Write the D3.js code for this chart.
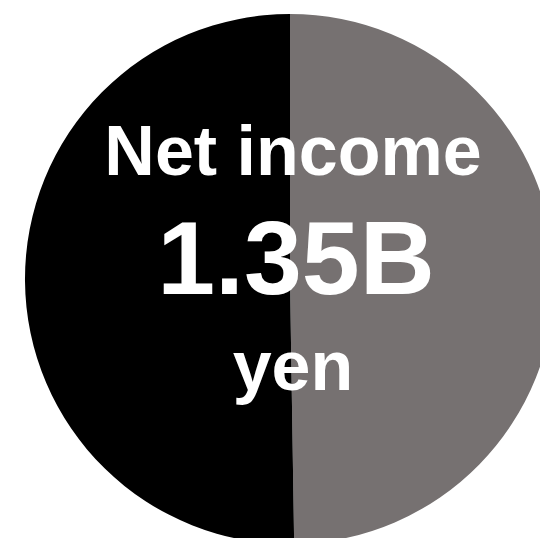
<!DOCTYPE html>
<html>
<head>
<meta charset="utf-8">
<script src="https://cdn.jsdelivr.net/npm/d3@7"></script>
<style>
  html, body { margin: 0; padding: 0; background: #ffffff; overflow: hidden; }
  svg { display: block; }
</style>
</head>
<body>
<script>
// Two-part split of the disc, clockwise from twelve o'clock
const segments = ["Right part", "Left part"];
const shares = [49.75, 50.25];
const segmentColors = ["#767171", "#000000"];

// Centre label lines
const labelLines = ["Net income", "1.35B", "yen"];

const width = 540, height = 538;
const cx = 290, cy = 279, radius = 265;

const svg = d3.select("body").append("svg")
  .attr("width", width)
  .attr("height", height);

const g = svg.append("g").attr("transform", `translate(${cx},${cy})`);

const pie = d3.pie().sort(null).value(d => d.value);
const arc = d3.arc().innerRadius(0).outerRadius(radius);

const data = segments.map((name, i) => ({ name, value: shares[i], color: segmentColors[i] }));

g.selectAll("path.slice")
  .data(pie(data))
  .join("path")
  .attr("class", "slice")
  .attr("d", arc)
  .attr("fill", d => d.data.color);

const lineStyle = [
  { size: 70, x: 293, y: 175 },
  { size: 104, x: 296, y: 294 },
  { size: 70, x: 293, y: 390 }
];

svg.selectAll("text.label")
  .data(labelLines)
  .join("text")
  .attr("class", "label")
  .attr("x", (d, i) => lineStyle[i].x)
  .attr("y", (d, i) => lineStyle[i].y)
  .attr("text-anchor", "middle")
  .attr("font-family", "'Liberation Sans', Arial, sans-serif")
  .attr("font-weight", "bold")
  .attr("font-size", (d, i) => lineStyle[i].size)
  .attr("fill", "#ffffff")
  .text(d => d);
</script>
</body>
</html>
